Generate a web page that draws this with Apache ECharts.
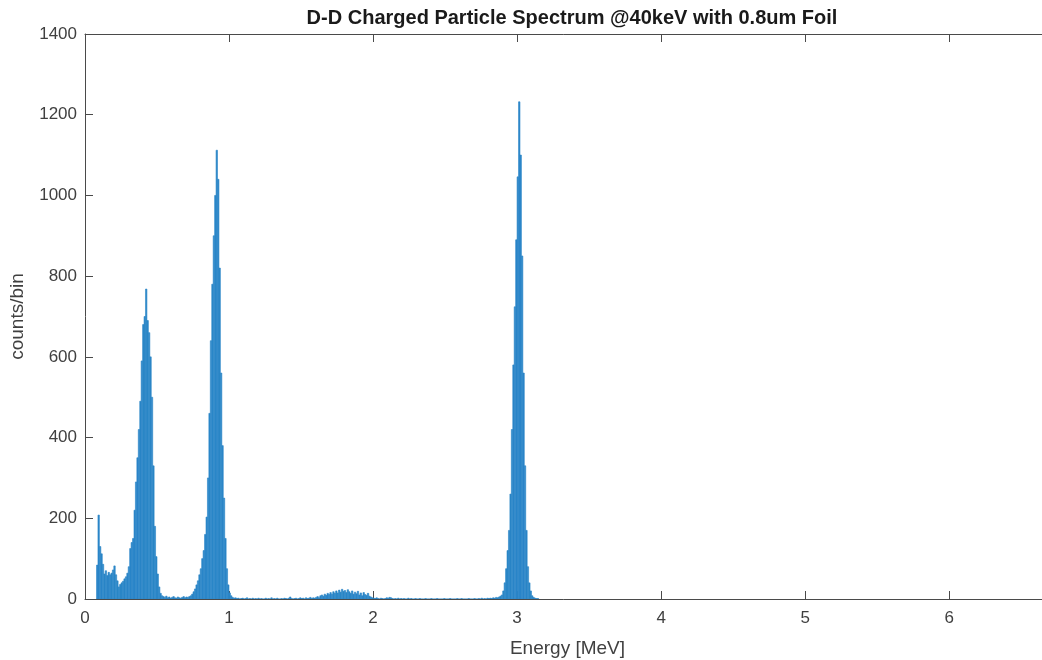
<!DOCTYPE html>
<html>
<head>
<meta charset="utf-8">
<script src="https://cdn.jsdelivr.net/npm/echarts@6/dist/echarts.min.js"></script>
<style>
html,body{margin:0;padding:0;background:#fff;}
#chart{width:1042px;height:660px;}
</style>
</head>
<body>
<div id="chart"></div>
<script>
// Histogram definition
const binStart = 0.08;   // MeV, left edge of first bin
const binWidth = 0.01;   // MeV
const counts = [
  84, 208,
  130, 112, 86, 62, 70, 58, 66, 60, 64, 72,
  82, 60, 45, 30, 36, 40, 44, 50, 55, 64,
  80, 125, 140, 150, 220, 290, 350, 420, 490, 590,
  680, 700, 768, 690, 660, 600, 500, 330, 180, 105,
  62, 30, 14, 8, 6, 4, 7, 3, 5, 2,
  4, 6, 3, 2, 5, 3, 2, 4, 6, 3,
  5, 4, 6, 8, 12, 18, 25, 35, 45, 60,
  75, 100, 120, 160, 203, 300, 460, 640, 780, 900,
  1000, 1112, 1040, 820, 560, 380, 250, 150, 75, 35,
  15, 8, 4, 2, 3, 1, 2, 0, 1, 2,
  0, 1, 3, 0, 1, 0, 2, 0, 1, 0,
  2, 0, 1, 0, 0, 2, 0, 1, 0, 3,
  0, 1, 0, 2, 0, 0, 1, 0, 2, 1,
  0, 2, 5, 1, 0, 1, 2, 0, 1, 3,
  1, 2, 0, 3, 1, 2, 4, 1, 3, 2,
  4, 6, 3, 8, 10, 7, 12, 9, 14, 11,
  16, 12, 18, 14, 20, 15, 22, 17, 24, 19,
  21, 16, 23, 18, 14, 20, 12, 17, 13, 19,
  10, 15, 8, 16, 11, 9, 14, 7, 5, 3,
  2, 1, 3, 1, 0, 2, 1, 0, 1, 3,
  2, 4, 3, 1, 0, 1, 0, 2, 0, 1,
  0, 1, 0, 0, 2, 0, 1, 0, 0, 1,
  0, 0, 1, 0, 0, 0, 1, 0, 0, 0,
  1, 0, 0, 0, 1, 0, 0, 0, 0, 1,
  0, 0, 0, 1, 0, 0, 0, 0, 1, 0,
  0, 1, 0, 0, 0, 0, 1, 0, 0, 0,
  1, 0, 0, 1, 0, 2, 0, 1, 0, 2,
  1, 2, 1, 3, 2, 4, 3, 5, 7, 10,
  20, 40, 75, 120, 170, 260, 420, 580, 724, 890,
  1046, 1232, 1100, 850, 560, 330, 170, 80, 40, 20,
  8, 4, 2, 1, 1
];
const titleText = 'D-D Charged Particle Spectrum @40keV with 0.8um Foil';
const xName = 'Energy [MeV]';
const yName = 'counts/bin';
const xMin = 0, xMax = 6.7, xStep = 1;
const yMin = 0, yMax = 1400, yStep = 200;

const data = counts.map((c, i) => [binStart + i * binWidth, binStart + (i + 1) * binWidth, c]);

const axisColor = '#4a4a4a';
const labelColor = '#404040';
const barColor = '#2b86c8';
const font = 'Liberation Sans, Arial, Helvetica, sans-serif';

const chart = echarts.init(document.getElementById('chart'), null, {renderer: 'canvas'});
chart.setOption({
  animation: false,
  backgroundColor: '#ffffff',
  title: {
    text: titleText,
    left: 567, top: 3, textAlign: 'center',
    textStyle: {fontFamily: font, fontSize: 20, fontWeight: 'bold', color: '#1a1a1a'}
  },
  grid: {left: 85, top: 34, width: 965, height: 565, containLabel: false, outerBoundsMode: 'none'},
  xAxis: [{
    type: 'value', min: xMin, max: xMax, interval: xStep,
    name: xName, nameLocation: 'middle', nameGap: 40,
    nameTextStyle: {fontFamily: font, fontSize: 19, color: labelColor},
    axisLine: {show: true, onZero: false, lineStyle: {color: axisColor, width: 1}},
    axisTick: {show: true, inside: true, length: 8, lineStyle: {color: axisColor}},
    axisLabel: {fontFamily: font, fontSize: 17, color: labelColor, margin: 11, showMaxLabel: false},
    splitLine: {show: false}
  }, {
    type: 'value', position: 'top', min: xMin, max: xMax, interval: xStep,
    axisLine: {show: true, onZero: false, lineStyle: {color: axisColor, width: 1}},
    axisTick: {show: true, inside: true, length: 8, lineStyle: {color: axisColor}},
    axisLabel: {show: false},
    splitLine: {show: false}
  }],
  yAxis: [{
    type: 'value', min: yMin, max: yMax, interval: yStep,
    name: yName, nameLocation: 'middle', nameGap: 58, nameRotate: 90,
    nameTextStyle: {fontFamily: font, fontSize: 19, color: labelColor},
    axisLine: {show: true, onZero: false, lineStyle: {color: axisColor, width: 1}},
    axisTick: {show: true, inside: true, length: 8, lineStyle: {color: axisColor}},
    axisLabel: {fontFamily: font, fontSize: 17, color: labelColor, margin: 8,
      formatter: function (v) { return String(v); }},
    splitLine: {show: false}
  }],
  series: [{
    type: 'custom',
    xAxisIndex: 0, yAxisIndex: 0,
    clip: true,
    encode: {x: [0, 1], y: 2},
    data: data,
    renderItem: function (params, api) {
      const p0 = api.coord([api.value(0), api.value(2)]);
      const p1 = api.coord([api.value(1), 0]);
      return {
        type: 'rect',
        shape: {x: p0[0], y: p0[1], width: p1[0] - p0[0], height: p1[1] - p0[1]},
        style: {fill: barColor, stroke: barColor, lineWidth: 0.6}
      };
    }
  }]
});
</script>
</body>
</html>
